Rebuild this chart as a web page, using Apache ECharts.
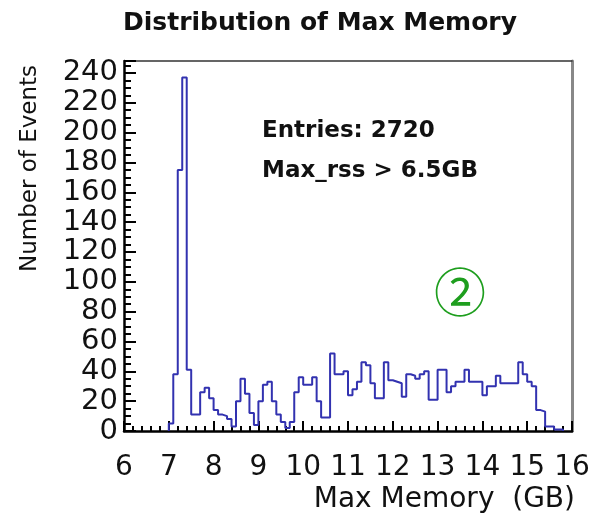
<!DOCTYPE html>
<html>
<head>
<meta charset="utf-8">
<script src="https://cdn.jsdelivr.net/npm/echarts@6/dist/echarts.min.js"></script>
<style>
  html, body { margin: 0; padding: 0; background: #fff; }
  #chart { width: 593px; height: 518px; }
</style>
</head>
<body>
<div id="chart"></div>
<script>
// histogram of max memory, 0.1 GB bins starting at 7.0 GB
const binStart = 7.0
const binWidth = 0.1
const counts = [
  5, 38, 175, 237, 41, 11, 11, 26, 29, 22,     // 7.0 - 7.9
  14, 11, 10, 8, 3, 20, 35, 25, 12, 4,         // 8.0 - 8.9
  20, 31, 33, 20, 11, 6, 2, 6, 26, 36,         // 9.0 - 9.9
  31, 31, 36, 20, 9, 9, 52, 38, 38, 40,        // 10.0 - 10.9
  24, 28, 33, 46, 44, 32, 22, 22, 46, 34,      // 11.0 - 11.9
  33, 32, 23, 38, 37, 35, 38, 40, 21, 21,      // 12.0 - 12.9
  41, 41, 26, 30, 33, 33, 41, 33, 33, 33,      // 13.0 - 13.9
  24, 30, 30, 37, 32, 32, 32, 32, 46, 38,      // 14.0 - 14.9
  33, 30, 14, 13, 3, 3, 1, 1                   // 15.0 - 15.7
]
const xRange = [6, 16]
const yRange = [0, 248]
const yStep = 20
const notes = ['Entries: 2720', 'Max_rss > 6.5GB']

const FONT = 'DejaVu Sans'

// left bin edges -> step line points (histogram outline)
let points = [[binStart, 0]]
counts.forEach((c, i) => {
  points.push([+(binStart + i * binWidth).toFixed(1), c])
})
points.push([+(binStart + counts.length * binWidth).toFixed(1), 0])

const chart = echarts.init(document.getElementById('chart'))

chart.setOption({
  animation: false,
  title: {
    text: 'Distribution of Max Memory',
    left: 118,
    top: 6,
    textStyle: { fontFamily: FONT, fontSize: 25, fontWeight: 'bold', color: '#111' }
  },
  grid: { left: 124, right: 21, top: 61, bottom: 87 },
  xAxis: [{
    type: 'value',
    min: xRange[0],
    max: xRange[1],
    interval: 1,
    axisLine: { show: true, onZero: false, lineStyle: { color: '#000', width: 2.5 } },
    axisTick: { inside: true, length: 10, lineStyle: { color: '#000', width: 2 } },
    minorTick: { show: true, splitNumber: 5, length: 5, lineStyle: { color: '#000', width: 2 } },
    splitLine: { show: false },
    axisLabel: { fontFamily: FONT, fontSize: 28, color: '#111', margin: 23 }
  }, {
    type: 'value',
    position: 'top',
    min: xRange[0],
    max: xRange[1],
    axisLine: { show: true, onZero: false, lineStyle: { color: '#333', width: 1.5 } },
    axisTick: { show: false },
    axisLabel: { show: false },
    splitLine: { show: false }
  }],
  yAxis: [{
    type: 'value',
    min: yRange[0],
    max: yRange[1],
    interval: yStep,
    axisLine: { show: true, onZero: false, lineStyle: { color: '#000', width: 2.5 } },
    axisTick: { show: true, inside: true, length: 12, lineStyle: { color: '#000', width: 2 } },
    minorTick: { show: true, splitNumber: 4, length: 7, lineStyle: { color: '#000', width: 2 } },
    splitLine: { show: false },
    axisLabel: { fontFamily: FONT, fontSize: 29, color: '#111', margin: 6, showMaxLabel: false }
  }, {
    type: 'value',
    position: 'right',
    min: yRange[0],
    max: yRange[1],
    axisLine: { show: true, onZero: false, lineStyle: { color: '#888', width: 3 } },
    axisTick: { show: false },
    axisLabel: { show: false },
    splitLine: { show: false }
  }],
  series: [{
    type: 'line',
    step: 'end',
    symbol: 'none',
    data: points,
    lineStyle: { color: '#3232b0', width: 2 }
  }],
  graphic: [{
    type: 'text',
    x: 30, y: 65,
    rotation: Math.PI / 2,
    style: {
      text: 'Number of Events', fontFamily: FONT, fontSize: 23, fill: '#111',
      align: 'right', verticalAlign: 'middle'
    }
  }, {
    type: 'text',
    x: 575, y: 500,
    style: {
      text: 'Max Memory  (GB)', fontFamily: FONT, fontSize: 28, fill: '#111',
      align: 'right', verticalAlign: 'middle'
    }
  }, {
    type: 'text',
    x: 262, y: 131,
    style: {
      text: notes[0], fontFamily: FONT, fontSize: 23, fontWeight: 'bold', fill: '#111',
      align: 'left', verticalAlign: 'middle'
    }
  }, {
    type: 'text',
    x: 262, y: 171,
    style: {
      text: notes[1], fontFamily: FONT, fontSize: 23, fontWeight: 'bold', fill: '#111',
      align: 'left', verticalAlign: 'middle'
    }
  }, {
    type: 'text',
    x: 460, y: 292,
    style: {
      text: '②', fontFamily: 'Noto Sans CJK JP', fontSize: 52, fill: '#1e9e1e',
      align: 'center', verticalAlign: 'middle'
    }
  }]
})
</script>
</body>
</html>
